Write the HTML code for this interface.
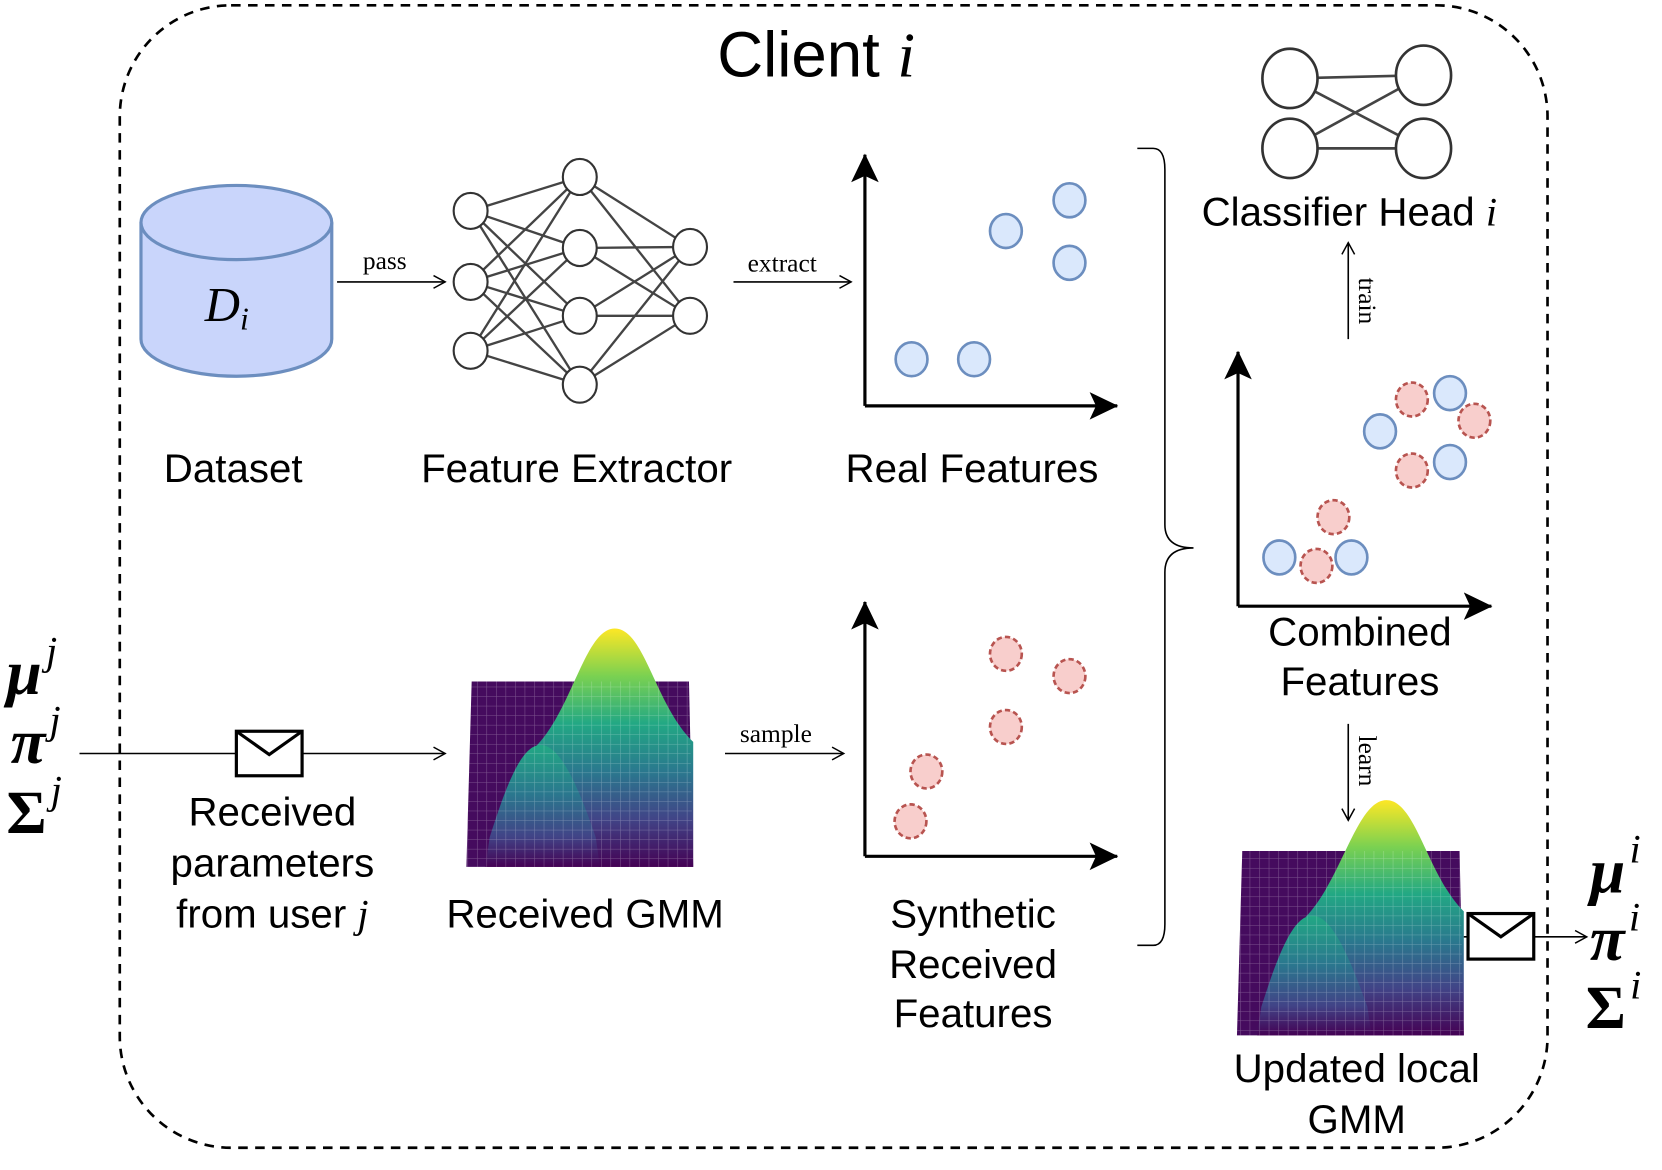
<!DOCTYPE html>
<html><head><meta charset="utf-8"><style>
html,body{margin:0;padding:0;background:#fff;}
svg{display:block;}
.s{font-family:"Liberation Sans",sans-serif;fill:#000;}
.r{font-family:"Liberation Serif",serif;fill:#000;}
</style></head><body>
<svg width="1662" height="1170" viewBox="0 0 1568 1104" preserveAspectRatio="none" xmlns="http://www.w3.org/2000/svg">
<defs>
<marker id="oa" markerWidth="14" markerHeight="14" refX="12" refY="7" orient="auto" markerUnits="userSpaceOnUse">
<path d="M1,1 L12,7 L1,13" fill="none" stroke="#000" stroke-width="1.4"/></marker>
<marker id="fa" markerWidth="30" markerHeight="30" refX="26" refY="13" orient="auto" markerUnits="userSpaceOnUse">
<path d="M0,0 L27,13 L0,26 L6,13 Z" fill="#000"/></marker>
<linearGradient id="vir" x1="0" y1="0" x2="0" y2="1">
<stop offset="0" stop-color="#fde725"/><stop offset="0.2" stop-color="#7ad151"/><stop offset="0.4" stop-color="#22a884"/><stop offset="0.6" stop-color="#2a788e"/><stop offset="0.8" stop-color="#414487"/><stop offset="1" stop-color="#440154"/></linearGradient>
<linearGradient id="vir2" x1="0" y1="0" x2="0" y2="1">
<stop offset="0" stop-color="#22a884"/><stop offset="0.4" stop-color="#2a788e"/><stop offset="0.75" stop-color="#414487"/><stop offset="1" stop-color="#440154"/></linearGradient>
<pattern id="grid" width="9" height="9" patternUnits="userSpaceOnUse">
<path d="M0,0 H9 M0,0 V9" stroke="#ffffff" stroke-opacity="0.3" stroke-width="1"/></pattern>
</defs>

<rect x="113" y="5" width="1347" height="1078" rx="105" fill="none" stroke="#000" stroke-width="2.5" stroke-dasharray="9,7"/>
<text x="770" y="72" class="s" font-size="60" text-anchor="middle">Client <tspan class="r" font-style="italic">i</tspan></text>

<path d="M133,210 L133,320 A90,35 0 0 0 313,320 L313,210" fill="#c9d5fb" stroke="#6c8ebf" stroke-width="3"/>
<ellipse cx="223" cy="210" rx="90" ry="35" fill="#c9d5fb" stroke="#6c8ebf" stroke-width="3"/>
<text x="214" y="303" class="r" font-size="46" font-style="italic" text-anchor="middle">D<tspan font-size="30" dy="8">i</tspan></text>

<line x1="318" y1="266" x2="420" y2="266" stroke="#000" stroke-width="1.5" marker-end="url(#oa)"/>
<text x="363" y="254" class="r" font-size="24" text-anchor="middle">pass</text>

<g stroke="#444" stroke-width="2.2">
<line x1="444" y1="199" x2="547" y2="167"/><line x1="444" y1="199" x2="547" y2="234"/><line x1="444" y1="199" x2="547" y2="298"/><line x1="444" y1="199" x2="547" y2="363"/>
<line x1="444" y1="266" x2="547" y2="167"/><line x1="444" y1="266" x2="547" y2="234"/><line x1="444" y1="266" x2="547" y2="298"/><line x1="444" y1="266" x2="547" y2="363"/>
<line x1="444" y1="331" x2="547" y2="167"/><line x1="444" y1="331" x2="547" y2="234"/><line x1="444" y1="331" x2="547" y2="298"/><line x1="444" y1="331" x2="547" y2="363"/>
<line x1="547" y1="167" x2="651" y2="233"/><line x1="547" y1="167" x2="651" y2="298"/>
<line x1="547" y1="234" x2="651" y2="233"/><line x1="547" y1="234" x2="651" y2="298"/>
<line x1="547" y1="298" x2="651" y2="233"/><line x1="547" y1="298" x2="651" y2="298"/>
<line x1="547" y1="363" x2="651" y2="233"/><line x1="547" y1="363" x2="651" y2="298"/>
</g>
<g fill="#fff" stroke="#333" stroke-width="2">
<ellipse cx="444" cy="199" rx="16" ry="17"/><ellipse cx="444" cy="266" rx="16" ry="17"/><ellipse cx="444" cy="331" rx="16" ry="17"/>
<ellipse cx="547" cy="167" rx="16" ry="17"/><ellipse cx="547" cy="234" rx="16" ry="17"/><ellipse cx="547" cy="298" rx="16" ry="17"/><ellipse cx="547" cy="363" rx="16" ry="17"/>
<ellipse cx="651" cy="233" rx="16" ry="17"/><ellipse cx="651" cy="298" rx="16" ry="17"/>
</g>

<line x1="692" y1="266" x2="803" y2="266" stroke="#000" stroke-width="1.5" marker-end="url(#oa)"/>
<text x="738" y="256" class="r" font-size="24" text-anchor="middle">extract</text>

<line x1="816" y1="383" x2="816" y2="146" stroke="#000" stroke-width="3" marker-end="url(#fa)"/>
<line x1="816" y1="383" x2="1054" y2="383" stroke="#000" stroke-width="3" marker-end="url(#fa)"/>
<g fill="#dae8fc" stroke="#6c8ebf" stroke-width="2.5">
<ellipse cx="860" cy="339" rx="15" ry="16"/><ellipse cx="919" cy="339" rx="15" ry="16"/><ellipse cx="949" cy="218" rx="15" ry="16"/><ellipse cx="1009" cy="189" rx="15" ry="16"/><ellipse cx="1009" cy="248" rx="15" ry="16"/>
</g>

<text x="220" y="455" class="s" font-size="38" text-anchor="middle">Dataset</text>
<text x="544" y="455" class="s" font-size="38" text-anchor="middle">Feature Extractor</text>
<text x="917" y="455" class="s" font-size="38" text-anchor="middle">Real Features</text>

<text x="6" y="655" class="r" font-size="60" font-style="italic" font-weight="bold">μ<tspan font-size="38" dy="-28" dx="4" font-weight="normal">j</tspan></text>
<text x="10" y="720" class="r" font-size="60" font-style="italic" font-weight="bold">π<tspan font-size="38" dy="-28" dx="4" font-weight="normal">j</tspan></text>
<text x="6" y="786" class="r" font-size="58" font-weight="bold">Σ<tspan font-size="38" dy="-28" dx="4" font-style="italic" font-weight="normal">j</tspan></text>
<line x1="75" y1="711" x2="420" y2="711" stroke="#000" stroke-width="1.5" marker-end="url(#oa)"/>
<rect x="223" y="690" width="62" height="42" fill="#fff" stroke="#000" stroke-width="3"/>
<path d="M223,690 L254,712 L285,690" fill="none" stroke="#000" stroke-width="3"/>
<text x="257" y="779" class="s" font-size="38" text-anchor="middle">Received</text>
<text x="257" y="827" class="s" font-size="38" text-anchor="middle">parameters</text>
<text x="257" y="875" class="s" font-size="38" text-anchor="middle">from user <tspan class="r" font-style="italic">j</tspan></text>

<g>
<polygon points="445,643 650,643 654,818 440,818" fill="#450b5e"/>
<path d="M505,705 C540,670 552,593 580,593 C608,593 618,665 654,700 L654,818 L565,818 C560,770 535,725 505,705 Z" fill="url(#vir)"/>
<path d="M462,790 C478,740 492,703 510,703 C528,703 545,740 562,790 L566,818 L458,818 Z" fill="url(#vir2)"/>
<polygon points="445,643 650,643 654,818 440,818" fill="url(#grid)"/>
</g>
<text x="552" y="875" class="s" font-size="38" text-anchor="middle">Received GMM</text>

<line x1="684" y1="711" x2="796" y2="711" stroke="#000" stroke-width="1.5" marker-end="url(#oa)"/>
<text x="732" y="700" class="r" font-size="24" text-anchor="middle">sample</text>

<line x1="816" y1="808" x2="816" y2="568" stroke="#000" stroke-width="3" marker-end="url(#fa)"/>
<line x1="816" y1="808" x2="1054" y2="808" stroke="#000" stroke-width="3" marker-end="url(#fa)"/>
<g fill="#f8cecc" stroke="#b85450" stroke-width="2.5" stroke-dasharray="5,3">
<ellipse cx="949" cy="617" rx="15" ry="16"/><ellipse cx="1009" cy="638" rx="15" ry="16"/><ellipse cx="949" cy="686" rx="15" ry="16"/><ellipse cx="874" cy="728" rx="15" ry="16"/><ellipse cx="859" cy="775" rx="15" ry="16"/>
</g>
<text x="918" y="875" class="s" font-size="38" text-anchor="middle">Synthetic</text>
<text x="918" y="923" class="s" font-size="38" text-anchor="middle">Received</text>
<text x="918" y="969" class="s" font-size="38" text-anchor="middle">Features</text>

<path d="M1073,140 L1088,140 Q1099,140 1099,160 L1099,495 Q1099,517 1126,517 M1126,517 Q1099,517 1099,540 L1099,872 Q1099,892 1088,892 L1073,892" fill="none" stroke="#000" stroke-width="1.5"/>

<line x1="1168" y1="572" x2="1168" y2="332" stroke="#000" stroke-width="3" marker-end="url(#fa)"/>
<line x1="1168" y1="572" x2="1407" y2="572" stroke="#000" stroke-width="3" marker-end="url(#fa)"/>
<g fill="#dae8fc" stroke="#6c8ebf" stroke-width="2.5">
<ellipse cx="1302" cy="407" rx="15" ry="16"/><ellipse cx="1368" cy="371" rx="15" ry="16"/><ellipse cx="1368" cy="436" rx="15" ry="16"/><ellipse cx="1207" cy="526" rx="15" ry="16"/><ellipse cx="1275" cy="526" rx="15" ry="16"/>
</g>
<g fill="#f8cecc" stroke="#b85450" stroke-width="2.5" stroke-dasharray="5,3">
<ellipse cx="1332" cy="377" rx="15" ry="16"/><ellipse cx="1391" cy="397" rx="15" ry="16"/><ellipse cx="1332" cy="444" rx="15" ry="16"/><ellipse cx="1258" cy="488" rx="15" ry="16"/><ellipse cx="1242" cy="534" rx="15" ry="16"/>
</g>
<text x="1283" y="609" class="s" font-size="38" text-anchor="middle">Combined</text>
<text x="1283" y="656" class="s" font-size="38" text-anchor="middle">Features</text>

<g stroke="#444" stroke-width="2.5">
<line x1="1217" y1="74" x2="1343" y2="71"/><line x1="1217" y1="140" x2="1343" y2="140"/>
<line x1="1217" y1="74" x2="1343" y2="140"/><line x1="1217" y1="140" x2="1343" y2="71"/>
</g>
<g fill="#fff" stroke="#333" stroke-width="2.5">
<ellipse cx="1217" cy="74" rx="26" ry="28"/><ellipse cx="1343" cy="71" rx="26" ry="28"/><ellipse cx="1217" cy="140" rx="26" ry="28"/><ellipse cx="1343" cy="140" rx="26" ry="28"/>
</g>
<text x="1273" y="213" class="s" font-size="38" text-anchor="middle">Classifier Head <tspan class="r" font-style="italic">i</tspan></text>

<line x1="1272" y1="320" x2="1272" y2="229" stroke="#000" stroke-width="1.5" marker-end="url(#oa)"/>
<text transform="translate(1282,284) rotate(90)" class="r" font-size="24" text-anchor="middle">train</text>
<line x1="1272" y1="683" x2="1272" y2="774" stroke="#000" stroke-width="1.5" marker-end="url(#oa)"/>
<text transform="translate(1282,718) rotate(90)" class="r" font-size="24" text-anchor="middle">learn</text>

<g>
<polygon points="1172,803 1377,803 1381,977 1167,977" fill="#450b5e"/>
<path d="M1232,865 C1266,830 1280,755 1308,755 C1336,755 1346,825 1381,860 L1381,977 L1294,977 C1288,930 1262,885 1232,865 Z" fill="url(#vir)"/>
<path d="M1190,950 C1206,900 1220,864 1238,864 C1256,864 1272,900 1290,950 L1294,977 L1186,977 Z" fill="url(#vir2)"/>
<polygon points="1172,803 1377,803 1381,977 1167,977" fill="url(#grid)"/>
</g>
<text x="1280" y="1021" class="s" font-size="38" text-anchor="middle">Updated local</text>
<text x="1280" y="1069" class="s" font-size="38" text-anchor="middle">GMM</text>

<line x1="1381" y1="884" x2="1497" y2="884" stroke="#000" stroke-width="1.5" marker-end="url(#oa)"/>
<rect x="1385" y="862" width="62" height="43" fill="#fff" stroke="#000" stroke-width="3"/>
<path d="M1385,862 L1416,884 L1447,862" fill="none" stroke="#000" stroke-width="3"/>
<text x="1500" y="842" class="r" font-size="60" font-style="italic" font-weight="bold">μ<tspan font-size="38" dy="-28" dx="4" font-weight="normal">i</tspan></text>
<text x="1500" y="906" class="r" font-size="60" font-style="italic" font-weight="bold">π<tspan font-size="38" dy="-28" dx="4" font-weight="normal">i</tspan></text>
<text x="1496" y="970" class="r" font-size="58" font-weight="bold">Σ<tspan font-size="38" dy="-28" dx="4" font-style="italic" font-weight="normal">i</tspan></text>
</svg>
</body></html>
